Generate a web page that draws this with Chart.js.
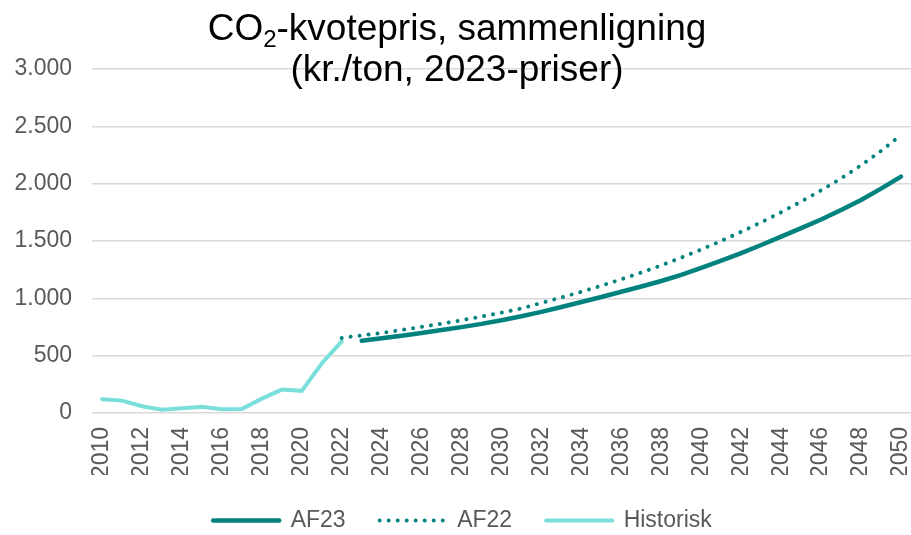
<!DOCTYPE html>
<html>
<head>
<meta charset="utf-8">
<script src="https://cdn.jsdelivr.net/npm/chart.js@4"></script>
<style>
	html, body { margin: 0; padding: 0; background: #fff; }
	#wrap { width: 911px; height: 535px; }
</style>
</head>
<body>
<div id="wrap"><canvas id="chart"></canvas></div>
<script>
const years = [
	"2010", "2011", "2012", "2013", "2014", "2015", "2016", "2017", "2018", "2019",
	"2020", "2021", "2022", "2023", "2024", "2025", "2026", "2027", "2028", "2029",
	"2030", "2031", "2032", "2033", "2034", "2035", "2036", "2037", "2038", "2039",
	"2040", "2041", "2042", "2043", "2044", "2045", "2046", "2047", "2048", "2049", "2050",
];

// Historisk 2010-2022
const historisk = [120, 108, 59, 29, 41, 55, 32, 35, 125, 204, 193, 432, 625];
// AF23 2023-2050
const af23Start = "2023";
const af23 = [
	630, 651, 674, 698, 723, 749, 777, 809, 844, 882,
	924, 968, 1012, 1057, 1103, 1151, 1205, 1265, 1328, 1395,
	1465, 1538, 1612, 1688, 1770, 1858, 1957, 2062,
];
// AF22 2022-2050
const af22Start = "2022";
const af22 = [
	655, 676, 699, 724, 751, 779, 809, 841, 875, 912,
	960, 1008, 1057, 1110, 1166, 1225, 1288, 1355, 1426, 1501,
	1580, 1663, 1751, 1844, 1942, 2046, 2160, 2285, 2425,
];

const yTicks = [0, 500, 1000, 1500, 2000, 2500, 3000];

const FONT = "'Liberation Sans', Arial, sans-serif";
const DARK = "#00827E";
const LIGHT = "#7ADFDB";

const toSeries = (start, values) => {
	const offset = years.indexOf(start);
	return years.map((_, i) => (i >= offset && i - offset < values.length ? values[i - offset] : null));
};

const formatDk = (val) => String(val).replace(/\B(?=(\d{3})+(?!\d))/g, ".");

// title drawn over the plot (the gridline runs behind the second line)
const titlePlugin = {
	id: "customTitle",
	afterDraw(chart) {
		const ctx = chart.ctx;
		const cx = 457;
		ctx.save();
		ctx.fillStyle = "#000";
		ctx.textBaseline = "alphabetic";
		ctx.textAlign = "left";
		const big = `37px ${FONT}`;
		const small = `24px ${FONT}`;
		ctx.font = big;
		const a = "CO";
		const c = "-kvotepris, sammenligning";
		const wa = ctx.measureText(a).width;
		const wc = ctx.measureText(c).width;
		ctx.font = small;
		const wb = ctx.measureText("2").width;
		let x = cx - (wa + wb + wc) / 2;
		const y1 = 40;
		ctx.font = big;
		ctx.fillText(a, x, y1);
		x += wa;
		ctx.font = small;
		ctx.fillText("2", x, y1 + 7);
		x += wb;
		ctx.font = big;
		ctx.fillText(c, x, y1);
		ctx.textAlign = "center";
		ctx.fillText("(kr./ton, 2023-priser)", cx, 81);
		ctx.restore();
	},
};

window.onload = () => {
	const canvas = document.getElementById("chart");
	new Chart(canvas, {
		type: "line",
		data: {
			labels: years,
			datasets: [
				{
					label: "AF23",
					data: toSeries(af23Start, af23),
					borderColor: DARK,
					backgroundColor: DARK,
					borderWidth: 4.5,
					borderCapStyle: "round",
				},
				{
					label: "AF22",
					data: toSeries(af22Start, af22),
					borderColor: DARK,
					backgroundColor: DARK,
					borderWidth: 4,
					borderDash: [0.01, 9],
					borderCapStyle: "round",
				},
				{
					label: "Historisk",
					data: toSeries(years[0], historisk),
					borderColor: LIGHT,
					backgroundColor: LIGHT,
					borderWidth: 4,
					borderCapStyle: "round",
				},
			],
		},
		options: {
			responsive: true,
			maintainAspectRatio: false,
			animation: false,
			layout: {
				padding: { top: 69, left: 14, right: 0, bottom: 0 },
			},
			elements: {
				point: { radius: 0 },
				line: { tension: 0 },
			},
			scales: {
				x: {
					offset: true,
					grid: { display: false, drawTicks: false },
					border: { display: false },
					afterFit: (axis) => {
						axis.paddingLeft = 0;
						axis.paddingRight = 0;
						axis.height = 62;
					},
					ticks: {
						autoSkip: false,
						minRotation: 90,
						maxRotation: 90,
						padding: 14,
						color: "#595959",
						font: { family: FONT, size: 23 },
						callback: function (val, index) {
							return index % 2 === 0 ? years[index] : "";
						},
					},
				},
				y: {
					min: yTicks[0],
					max: yTicks[yTicks.length - 1],
					afterBuildTicks: (axis) => {
						axis.ticks = yTicks.map((v) => ({ value: v }));
					},
					afterFit: (axis) => {
						axis.width = 78;
					},
					grid: { color: "#d9d9d9", lineWidth: 1.5, drawTicks: false },
					border: { display: false },
					ticks: {
						padding: 20,
						color: "#595959",
						font: { family: FONT, size: 23 },
						callback: (val) => formatDk(val),
					},
				},
			},
			plugins: {
				title: { display: false },
				tooltip: { enabled: false },
				legend: {
					position: "bottom",
					maxHeight: 60,
					labels: {
						usePointStyle: true,
						pointStyle: "line",
						pointStyleWidth: 66,
						boxHeight: 23,
						padding: 34,
						color: "#595959",
						font: { family: FONT, size: 23 },
						generateLabels: (chart) => {
							const items = Chart.defaults.plugins.legend.labels.generateLabels(chart);
							items.forEach((item) => {
								const ds = chart.data.datasets[item.datasetIndex];
								item.lineDash = ds.borderDash || [];
								item.lineCap = ds.borderCapStyle;
								item.lineWidth = ds.borderWidth;
								item.strokeStyle = ds.borderColor;
							});
							return items;
						},
					},
				},
			},
		},
		plugins: [titlePlugin],
	});
};
</script>
</body>
</html>
